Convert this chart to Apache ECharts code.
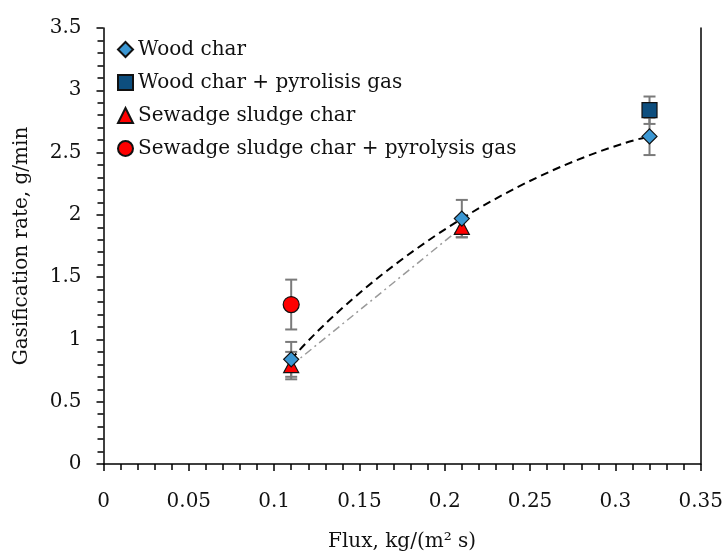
<!DOCTYPE html>
<html>
<head>
<meta charset="utf-8">
<script src="https://cdn.jsdelivr.net/npm/echarts@6/dist/echarts.min.js"></script>
<style>html,body{margin:0;padding:0;background:#fff}#c{width:724px;height:555px}</style>
</head>
<body>
<div id="c"></div>
<script>
// ---- data ----
var seriesNames = ['Wood char', 'Wood char + pyrolisis gas', 'Sewadge sludge char', 'Sewadge sludge char + pyrolysis gas'];
var fluxWood = [0.11, 0.21, 0.32];
var rateWood = [0.84, 1.97, 2.63];
var errWood = [0.14, 0.15, 0.15];
var fluxWoodGas = [0.32];
var rateWoodGas = [2.84];
var errWoodGas = [0.11];
var fluxSludge = [0.11, 0.21];
var rateSludge = [0.79, 1.90];
var errSludge = [0.11, 0.08];
var fluxSludgeGas = [0.11];
var rateSludgeGas = [1.28];
var errSludgeGas = [0.20];
var xTicks = [0, 0.05, 0.1, 0.15, 0.2, 0.25, 0.3, 0.35];
var yTicks = [0, 0.5, 1, 1.5, 2, 2.5, 3, 3.5];

function pts(xs, ys) { return xs.map(function (x, i) { return [x, ys[i]]; }); }
function errPts(xs, ys, es) { return xs.map(function (x, i) { return [x, ys[i], es[i]]; }); }

var FONT = 'DejaVu Serif';

var errData = [].concat(
  errPts(fluxWood, rateWood, errWood),
  errPts(fluxWoodGas, rateWoodGas, errWoodGas),
  errPts(fluxSludge, rateSludge, errSludge),
  errPts(fluxSludgeGas, rateSludgeGas, errSludgeGas)
);

var chart = echarts.init(document.getElementById('c'), null, { renderer: 'canvas' });
var axisCommon = {
  axisLine: { show: true, lineStyle: { color: '#000', width: 1.5 } },
  axisTick: { show: true, inside: false, length: 7, lineStyle: { color: '#000', width: 1.5 } },
  minorTick: { show: true, splitNumber: 5, length: 6, lineStyle: { color: '#000', width: 1.5 } },
  splitLine: { show: false },
  axisLabel: { color: '#111', fontFamily: FONT, fontSize: 20 },
  nameTextStyle: { color: '#111', fontFamily: FONT, fontSize: 20 }
};

chart.setOption({
  animation: false,
  backgroundColor: '#fff',
  grid: { left: 103.5, right: 23.3, top: 28, bottom: 91, containLabel: false, outerBoundsMode: 'none' },
  legend: {
    orient: 'vertical', left: 112, top: 33,
    itemWidth: 15, itemHeight: 15, itemGap: 10,
    textStyle: { fontFamily: FONT, fontSize: 20, color: '#111', lineHeight: 23 },
    data: seriesNames
  },
  xAxis: Object.assign({}, axisCommon, {
    type: 'value', min: 0, max: 0.35, interval: 0.05,
    name: 'Flux, kg/(m\u00b2 s)', nameLocation: 'middle', nameGap: 68,
    axisLabel: Object.assign({}, axisCommon.axisLabel, { margin: 28, formatter: function (v) { return String(+v.toFixed(2)); } })
  }),
  yAxis: [Object.assign({}, axisCommon, {
    type: 'value', min: 0, max: 3.5, interval: 0.5,
    name: 'Gasification rate, g/min', nameLocation: 'middle', nameGap: 72,
    axisLabel: Object.assign({}, axisCommon.axisLabel, { margin: 22, formatter: function (v) { return String(+v.toFixed(1)); } })
  }), {
    type: 'value', min: 0, max: 3.5, position: 'right',
    axisLine: { show: true, lineStyle: { color: '#000', width: 1.5 } },
    axisTick: { show: false }, axisLabel: { show: false }, splitLine: { show: false }
  }],
  series: [
    {
      type: 'line', name: 'woodTrend', data: pts(fluxWood, rateWood), smooth: 0.6,
      symbol: 'none', lineStyle: { color: '#000', width: 2, type: [8, 5] }, z: 2, silent: true
    },
    {
      type: 'line', name: 'sludgeTrend', data: pts(fluxSludge, rateSludge),
      symbol: 'none', lineStyle: { color: '#9a9a9a', width: 1.5, type: [8, 4, 2, 4] }, z: 2, silent: true
    },
    {
      type: 'custom', name: 'err', data: errData, z: 3, silent: true,
      renderItem: function (params, api) {
        var x = api.value(0), y = api.value(1), e = api.value(2);
        var t = api.coord([x, y + e]), b = api.coord([x, y - e]);
        var hw = 6;
        var st = { stroke: '#7a7a7a', lineWidth: 2 };
        return { type: 'group', children: [
          { type: 'line', shape: { x1: t[0], y1: t[1], x2: b[0], y2: b[1] }, style: st },
          { type: 'line', shape: { x1: t[0] - hw, y1: t[1], x2: t[0] + hw, y2: t[1] }, style: st },
          { type: 'line', shape: { x1: b[0] - hw, y1: b[1], x2: b[0] + hw, y2: b[1] }, style: st }
        ] };
      }
    },
    {
      type: 'scatter', name: seriesNames[0], data: pts(fluxWood, rateWood), symbol: 'diamond', symbolSize: [15, 15], z: 6,
      itemStyle: { color: '#3b97d3', borderColor: '#111', borderWidth: 1.2, opacity: 1 }
    },
    {
      type: 'scatter', name: seriesNames[1], data: pts(fluxWoodGas, rateWoodGas), symbol: 'rect', symbolSize: 15, z: 5,
      itemStyle: { color: '#0d4e7e', borderColor: '#111', borderWidth: 1.2, opacity: 1 }
    },
    {
      type: 'scatter', name: seriesNames[2], data: pts(fluxSludge, rateSludge), symbol: 'triangle', symbolSize: [15, 14], z: 5,
      itemStyle: { color: '#ff0000', borderColor: '#111', borderWidth: 1.2, opacity: 1 }
    },
    {
      type: 'scatter', name: seriesNames[3], data: pts(fluxSludgeGas, rateSludgeGas), symbol: 'circle', symbolSize: 16, z: 5,
      itemStyle: { color: '#ff0000', borderColor: '#111', borderWidth: 1.2, opacity: 1 }
    }
  ]
});
</script>
</body>
</html>
